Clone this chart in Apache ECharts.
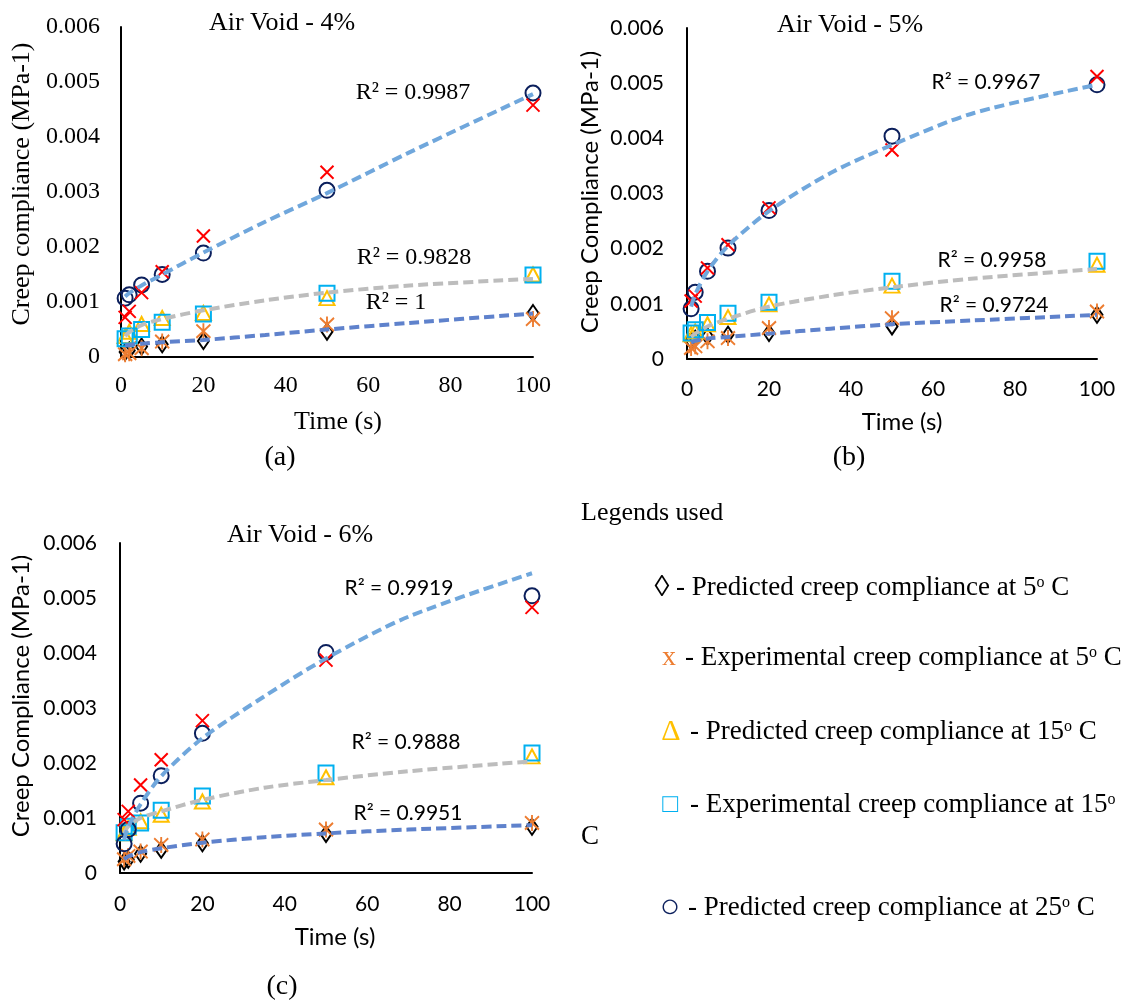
<!DOCTYPE html>
<html>
<head>
<meta charset="utf-8">
<script src="https://cdn.jsdelivr.net/npm/echarts@6/dist/echarts.min.js"></script>
<style>
  html, body { margin: 0; padding: 0; background: #fff; }
  #chart { width: 1123px; height: 1003px; }
</style>
</head>
<body>
<div id="chart"></div>
<script>
// ---------- DATA ----------
const time = [1, 2, 5, 10, 20, 50, 100];
const trendTime = [1, 2, 5, 10, 20, 35, 50, 70, 100];
const xTicks = [0, 20, 40, 60, 80, 100];
const yTicks = [0, 0.001, 0.002, 0.003, 0.004, 0.005, 0.006];

// Panel (a) Air Void 4%
const a_pred5  = [0.00009, 0.00012, 0.00019, 0.00023, 0.00029, 0.00046, 0.00080];
const a_exp5   = [0.00005, 0.00007, 0.00016, 0.00028, 0.00047, 0.00059, 0.00069];
const a_pred15 = [0.00038, 0.00046, 0.00060, 0.00071, 0.00080, 0.00107, 0.00150];
const a_exp15  = [0.00033, 0.00038, 0.00050, 0.00063, 0.00078, 0.00116, 0.00149];
const a_pred25 = [0.00107, 0.00113, 0.00131, 0.00150, 0.00189, 0.00303, 0.00480];
const a_exp25  = [0.00072, 0.00083, 0.00117, 0.00155, 0.00220, 0.00336, 0.00458];
const a_fit5   = [0.00021, 0.00022, 0.00024, 0.00027, 0.00031, 0.00040, 0.00050, 0.00062, 0.00079];
const a_fit15  = [0.00038, 0.00045, 0.00058, 0.00069, 0.00085, 0.00103, 0.00117, 0.00130, 0.00142];
const a_fit25  = [0.00110, 0.00116, 0.00130, 0.00150, 0.00190, 0.00246, 0.00298, 0.00372, 0.00478];

// Panel (b) Air Void 5%
const b_pred5  = [0.00033, 0.00037, 0.00041, 0.00044, 0.00047, 0.00059, 0.00080];
const b_exp5   = [0.00020, 0.00023, 0.00032, 0.00038, 0.00056, 0.00074, 0.00086];
const b_pred15 = [0.00045, 0.00050, 0.00063, 0.00076, 0.00099, 0.00133, 0.00171];
const b_exp15  = [0.00047, 0.00053, 0.00066, 0.00083, 0.00103, 0.00141, 0.00177];
const b_pred25 = [0.00091, 0.00121, 0.00159, 0.00201, 0.00269, 0.00404, 0.00497];
const b_exp25  = [0.00105, 0.00114, 0.00165, 0.00207, 0.00274, 0.00379, 0.00512];
const b_fit5   = [0.00030, 0.00033, 0.00037, 0.00040, 0.00046, 0.00055, 0.00063, 0.00070, 0.00080];
const b_fit15  = [0.00040, 0.00046, 0.00059, 0.00073, 0.00095, 0.00115, 0.00130, 0.00146, 0.00163];
const b_fit25  = [0.00095, 0.00117, 0.00159, 0.00205, 0.00268, 0.00337, 0.00388, 0.00446, 0.00497];

// Panel (c) Air Void 6%
const c_pred5  = [0.00021, 0.00024, 0.00035, 0.00042, 0.00054, 0.00071, 0.00084];
const c_exp5   = [0.00025, 0.00031, 0.00039, 0.00051, 0.00061, 0.00079, 0.00091];
const c_pred15 = [0.00072, 0.00082, 0.00094, 0.00106, 0.00130, 0.00174, 0.00212];
const c_exp15  = [0.00073, 0.00085, 0.00091, 0.00114, 0.00140, 0.00182, 0.00218];
const c_pred25 = [0.00053, 0.00079, 0.00127, 0.00177, 0.00254, 0.00401, 0.00504];
const c_exp25  = [0.00097, 0.00112, 0.00160, 0.00206, 0.00277, 0.00387, 0.00483];
const c_fit5   = [0.00025, 0.00030, 0.00038, 0.00045, 0.00055, 0.00065, 0.00072, 0.00079, 0.00087];
const c_fit15  = [0.00072, 0.00085, 0.00100, 0.00112, 0.00133, 0.00155, 0.00169, 0.00185, 0.00203];
const c_fit25  = [0.00060, 0.00084, 0.00125, 0.00176, 0.00245, 0.00321, 0.00390, 0.00466, 0.00545];

const panelTitles = ['Air Void - 4%', 'Air Void - 5%', 'Air Void - 6%'];
const r2Labels = [
  ['R² = 0.9987', 'R² = 0.9828', 'R² = 1'],
  ['R² = 0.9967', 'R² = 0.9958', 'R² = 0.9724'],
  ['R² = 0.9919', 'R² = 0.9888', 'R² = 0.9951']
];
const yTitles = ['Creep compliance (MPa-1)', 'Creep Compliance (MPa-1)', 'Creep Compliance (MPa-1)'];
const xTitle = 'Time (s)';
const subLabels = ['(a)', '(b)', '(c)'];
const legendTitle = 'Legends used';
const legendItems = [
  ['◊', '- Predicted creep compliance at 5', ' C'],
  ['x', '- Experimental creep compliance at 5', ' C'],
  ['Δ', '- Predicted creep compliance at 15', ' C'],
  ['□', '- Experimental creep compliance at 15', ''],
  ['○', '- Predicted creep compliance at 25', ' C']
];

// ---------- STYLE / LAYOUT ----------
const SERIF = '"Liberation Serif", "Times New Roman", serif';
const SANS = 'Lato, "Liberation Sans", sans-serif';
const C = {
  diamond: '#000000', star: '#ED7D31', tri: '#FFC000', sq: '#00B0F0',
  circ: '#0B1F5C', xr: '#FF0000',
  fit5: '#5F82CC', fit15: '#BDBDBD', fit25: '#70A7DC'
};
const grids = [
  { left: 121, top: 27, width: 412, height: 330 },
  { left: 687, top: 28, width: 410, height: 331 },
  { left: 120, top: 543, width: 412, height: 330 }
];
const panelFonts = [
  { fam: SERIF, size: 24, ylm: 21, xlm: 17 },
  { fam: SANS, size: 21, ylm: 23, xlm: 20 },
  { fam: SANS, size: 21, ylm: 23, xlm: 21 }
];

const panels = [
  { pred5: a_pred5, exp5: a_exp5, pred15: a_pred15, exp15: a_exp15, pred25: a_pred25, exp25: a_exp25, fit5: a_fit5, fit15: a_fit15, fit25: a_fit25 },
  { pred5: b_pred5, exp5: b_exp5, pred15: b_pred15, exp15: b_exp15, pred25: b_pred25, exp25: b_exp25, fit5: b_fit5, fit15: b_fit15, fit25: b_fit25 },
  { pred5: c_pred5, exp5: c_exp5, pred15: c_pred15, exp15: c_exp15, pred25: c_pred25, exp25: c_exp25, fit5: c_fit5, fit15: c_fit15, fit25: c_fit25 }
];

const X_PATH = 'path://M0 0L10 10M10 0L0 10';
const STAR_PATH = 'path://M0 1L10 11M10 1L0 11M5 0L5 12';

function scatter(gi, vals, symbol, size, color, bw) {
  return {
    type: 'scatter', xAxisIndex: gi, yAxisIndex: gi,
    data: time.map((t, i) => [t, vals[i]]),
    symbol: symbol, symbolSize: size, silent: true, z: 2,
    itemStyle: { color: 'rgba(0,0,0,0)', borderColor: color, borderWidth: bw, opacity: 1 }
  };
}
function fitLine(gi, vals, color) {
  return {
    type: 'line', xAxisIndex: gi, yAxisIndex: gi,
    data: trendTime.map((t, i) => [t, vals[i]]),
    smooth: 0.3, symbol: 'none', silent: true, z: 3,
    lineStyle: { color: color, width: 4, type: [10, 5] }
  };
}

const xAxis = [], yAxis = [], series = [];
panels.forEach((p, gi) => {
  const f = panelFonts[gi];
  xAxis.push({
    type: 'value', gridIndex: gi, min: 0, max: 100, interval: 20,
    axisLine: { show: true, onZero: false, lineStyle: { color: '#000', width: 2 } },
    axisTick: { show: false }, splitLine: { show: false },
    axisLabel: { color: '#000', fontFamily: f.fam, fontSize: f.size, margin: f.xlm,
      formatter: v => (xTicks.indexOf(v) >= 0 ? String(v) : '') }
  });
  yAxis.push({
    type: 'value', gridIndex: gi, min: 0, max: 0.006, interval: 0.001,
    axisLine: { show: true, onZero: false, lineStyle: { color: '#000', width: 2 } },
    axisTick: { show: false }, splitLine: { show: false },
    axisLabel: { color: '#000', fontFamily: f.fam, fontSize: f.size, margin: f.ylm,
      formatter: v => {
        const k = yTicks.findIndex(t => Math.abs(t - v) < 1e-9);
        return k < 0 ? '' : (k === 0 ? '0' : yTicks[k].toFixed(3));
      } }
  });
  series.push(scatter(gi, p.pred5, 'diamond', [11, 16], C.diamond, 2));
  series.push(scatter(gi, p.exp5, STAR_PATH, [14, 16], C.star, 2));
  series.push(scatter(gi, p.pred15, 'triangle', [15, 14], C.tri, 2));
  series.push(scatter(gi, p.exp15, 'rect', 15, C.sq, 2));
  series.push(scatter(gi, p.pred25, 'circle', 15, C.circ, 2));
  series.push(scatter(gi, p.exp25, X_PATH, 13, C.xr, 2));
  series.push(fitLine(gi, p.fit5, C.fit5));
  series.push(fitLine(gi, p.fit15, C.fit15));
  series.push(fitLine(gi, p.fit25, C.fit25));
});

// ---------- TEXT ----------
function txt(x, y, text, font, extra) {
  const el = { type: 'text', x: x, y: y, silent: true, z: 10,
    style: { text: text, font: font, fill: '#000', align: 'center', verticalAlign: 'middle' } };
  if (extra) Object.assign(el.style, extra.style || {}), Object.assign(el, extra.el || {});
  return el;
}
const graphic = [];
const titlePos = [[282, 23], [850, 25], [300, 535]];
panelTitles.forEach((t, i) => graphic.push(txt(titlePos[i][0], titlePos[i][1], t, '26px ' + SERIF)));
const xtPos = [[338, 422], [902, 422], [335, 937]];
const xtFont = ['26px ' + SERIF, '24px ' + SANS, '24px ' + SANS];
xtPos.forEach((p, i) => graphic.push(txt(p[0], p[1], xTitle, xtFont[i])));
const ytPos = [[22, 184], [590, 192], [21, 696]];
ytPos.forEach((p, i) => graphic.push(txt(p[0], p[1], yTitles[i], xtFont[i], { el: { rotation: Math.PI / 2 } })));
const r2Pos = [
  [[413, 93], [414, 258], [396, 303]],
  [[986, 82], [992, 260], [994, 305]],
  [[399, 588], [406, 742], [408, 813]]
];
const r2Font = ['24px ' + SERIF, '21px ' + SANS, '21px ' + SANS];
r2Pos.forEach((ps, i) => ps.forEach((p, j) => graphic.push(txt(p[0], p[1], r2Labels[i][j], r2Font[i]))));
const subPos = [[280, 458], [849, 458], [282, 987]];
subPos.forEach((p, i) => graphic.push(txt(p[0], p[1], subLabels[i], '28px ' + SERIF)));

// legend
const LF = '27px ' + SERIF;
graphic.push(txt(581, 513, legendTitle, '26px ' + SERIF, { style: { align: 'left' } }));
const legRows = [588, 658, 732, 805, 908];
const legSymX = [662, 669, 671, 670, 670];
const legTextX = [676, 685, 690, 690, 688];
const legSymColor = [C.diamond, C.star, C.tri, C.sq, C.circ];
const legSymFont = ['bold 30px ' + SERIF, '28px ' + SERIF, '30px ' + SERIF, '26px ' + SERIF, '34px ' + SERIF];
legendItems.forEach((it, i) => {
  graphic.push(txt(legSymX[i], legRows[i], it[0], legSymFont[i], { style: { fill: legSymColor[i] } }));
  graphic.push({
    type: 'text', x: legTextX[i], y: legRows[i], silent: true, z: 10,
    style: {
      text: it[1] + '{s|o}' + it[2], font: LF, fill: '#000', align: 'left', verticalAlign: 'middle',
      rich: { s: { fontSize: 16, fontFamily: SERIF, lineHeight: 14, verticalAlign: 'top', fill: '#000' } }
    }
  });
});
graphic.push(txt(581, 837, 'C', LF, { style: { align: 'left' } }));

const chart = echarts.init(document.getElementById('chart'), null, { renderer: 'canvas' });
chart.setOption({
  animation: false,
  backgroundColor: '#fff',
  grid: grids,
  xAxis: xAxis,
  yAxis: yAxis,
  series: series,
  graphic: graphic
});
</script>
</body>
</html>
